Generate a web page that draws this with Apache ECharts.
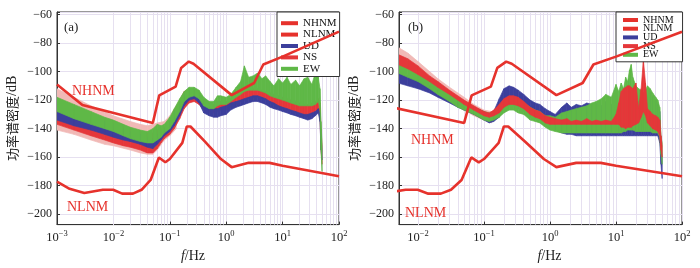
<!DOCTYPE html>
<html>
<head>
<meta charset="utf-8">
<script src="https://cdn.jsdelivr.net/npm/echarts@6/dist/echarts.min.js"></script>
<style>
  html, body { margin: 0; padding: 0; background: #fff; }
  #chart { width: 700px; height: 268px; }
</style>
</head>
<body>
<div id="chart"></div>
<script>
// Peterson noise models as drawn in the figure (frequency in Hz, dB)
var nhnmF  = [0.001, 0.00282, 0.05, 0.065, 0.127, 0.159, 0.217, 0.263, 1.25, 3.125, 4.55, 10, 100];
var nhnmDb = [-109, -123.5, -136, -116.7, -110.5, -97.4, -93, -94.5, -116.5, -108, -95, -89.5, -72];
var nlnmF  = [0.001, 0.00167, 0.00305, 0.0065, 0.0099, 0.0143, 0.0222, 0.0316, 0.0457, 0.0641, 0.0833, 0.1, 0.1667, 0.2, 0.2326, 0.4167, 0.806, 1.25, 2.5, 5.88, 10, 100];
var nlnmDb = [-177.2, -182.2, -185.1, -182.9, -182.9, -185.6, -185.6, -182.9, -176, -160.2, -163.6, -161.3, -150, -138.5, -138.5, -149, -161.3, -167, -164, -164, -166, -173.4];

// panel (a): PSD envelopes
var fA = [0.001, 0.002, 0.004, 0.007, 0.01, 0.015, 0.02, 0.03, 0.04, 0.05, 0.06, 0.07, 0.08, 0.1, 0.12, 0.15, 0.18, 0.22, 0.27, 0.33,
          0.4, 0.5, 0.6, 0.7, 0.8, 1, 1.2, 1.5, 1.8, 2.1, 2.5, 3, 3.6, 4.3, 5, 6, 7, 8.5, 10, 12, 14, 17, 20, 24, 28, 33, 38, 43, 46, 48, 50];
var nsHiA = [-121, -126, -130, -133, -135, -138, -140, -142, -143, -143, -141, -140, -139, -134, -127, -120, -114, -112, -112, -114,
             -120, -122, -123, -121, -121, -121, -119, -117, -115, -113, -112, -112, -112, -113, -114, -115, -116, -117, -118, -119, -120, -121, -122, -123, -123, -122, -121, -119, -122, -140, -152];
var nsLoA = [-137, -141, -145, -148, -150, -152, -153, -155, -157, -157, -154, -150, -147, -144, -140, -133, -126, -122, -121, -123,
             -127, -129, -129, -128, -127, -127, -125, -123, -121, -120, -119, -118, -118, -119, -120, -122, -123, -125, -126, -127, -128, -129, -130, -131, -132, -131, -130, -128, -132, -155, -165];
var udHiA = [-124, -128, -132, -135, -137, -140, -142, -144, -146, -147, -144, -142, -140, -135, -128, -121, -116, -113, -113, -115,
             -123, -125, -126, -126, -125, -124, -122, -121, -120, -119, -118, -117, -117, -118, -119, -121, -122, -124, -125, -126, -127, -128, -129, -130, -130, -129, -128, -126, -129, -145, -155];
var udLoA = [-134, -138, -141, -144, -146, -148, -149, -151, -153, -154, -151, -148, -145, -142, -138, -131, -124, -120, -119, -122,
             -129, -131, -132, -132, -131, -130, -127, -125, -124, -123, -122, -121, -121, -122, -123, -125, -126, -127, -128, -129, -130, -131, -132, -133, -134, -133, -131, -129, -135, -155, -162];
var ewHiA = [-118, -123, -128, -132, -134, -137, -139, -141, -142, -140, -137, -138, -137, -132, -126, -119, -114, -111, -111, -113,
             -118, -121, -121, -117, -117, -118, -116, -111, -107, -96, -104, -103, -101, -105, -103, -107, -110, -105, -108, -104, -109, -106, -110, -105, -104, -109, -101, -104, -112, -135, -150];
var ewLoA = [-128, -133, -137, -140, -142, -145, -147, -149, -150, -150, -148, -146, -143, -140, -135, -128, -121, -118, -117, -119,
             -124, -126, -126, -124, -123, -123, -121, -118, -116, -114, -113, -113, -113, -114, -115, -117, -118, -119, -120, -121, -122, -123, -124, -124, -124, -124, -123, -121, -126, -155, -170];
// faint individual curves around the dense band at long periods
var fSpreadA  = [0.001, 0.002, 0.004, 0.007, 0.01, 0.02, 0.03, 0.04, 0.05, 0.06, 0.08, 0.1, 0.13];
var spreadHiA = [-112, -118, -124, -128, -131, -135, -137, -138, -137, -136, -135, -131, -124];
var spreadLoA = [-141, -144, -148, -151, -152, -155, -157, -158, -158, -155, -148, -145, -140];

// panel (b): PSD envelopes
var fB = [0.005, 0.007, 0.01, 0.015, 0.02, 0.03, 0.04, 0.05, 0.07, 0.1, 0.12, 0.14, 0.17, 0.2, 0.24, 0.28, 0.33, 0.4, 0.5, 0.6, 0.7, 0.85,
          1, 1.2, 1.5, 1.8, 2.1, 2.5, 3, 3.6, 4.3, 5, 6, 7, 8.5, 10, 11, 12, 13, 14, 15, 16, 17, 18, 20, 22, 24, 26, 28, 30, 33, 36, 40, 43, 46, 48, 50];
var udHiB = [-100, -103, -106, -110, -113, -117, -120, -122, -125, -128, -130, -128, -119, -112, -110, -111, -113, -116, -120, -122, -123, -126,
             -128, -130, -125, -122, -125, -123, -124, -122, -123, -122, -124, -121, -123, -121, -123, -120, -122, -119, -121, -118, -120, -121, -122, -121, -119, -121, -120, -117, -114, -118, -120, -123, -128, -150, -160];
var udLoB = [-108, -110, -112, -115, -118, -122, -125, -127, -130, -134, -136, -135, -132, -126, -124, -124, -126, -128, -132, -133, -134, -137,
             -139, -141, -143, -144, -144, -145, -145, -145, -145, -145, -145, -145, -145, -145, -145, -145, -145, -145, -145, -145, -145, -145, -145, -145, -145, -145, -145, -145, -145, -145, -145, -145, -150, -165, -175];
var ewHiB = [-90, -93, -98, -104, -108, -114, -118, -121, -125, -128, -129, -128, -124, -120, -118, -118, -119, -122, -125, -127, -128, -131,
             -131, -132, -129, -128, -127, -126, -125, -124, -122, -121, -119, -116, -118, -109, -114, -108, -112, -104, -107, -99, -95, -104, -110, -112, -113, -115, -113, -110, -112, -115, -118, -120, -125, -145, -150];
var ewLoB = [-101, -104, -107, -112, -116, -121, -125, -127, -130, -134, -135, -134, -132, -129, -127, -127, -129, -130, -134, -135, -136, -139,
             -141, -142, -143, -143, -143, -143, -143, -143, -143, -143, -143, -143, -143, -143, -143, -143, -142, -142, -141, -141, -141, -141, -142, -142, -142, -142, -142, -142, -142, -143, -143, -143, -146, -158, -165];
var nsHiB = [-88, -91, -96, -103, -107, -113, -117, -120, -124, -128, -129, -127, -123, -119, -117, -117, -118, -121, -125, -127, -128, -131,
             -132, -133, -134, -133, -135, -134, -135, -133, -135, -134, -135, -134, -135, -130, -122, -114, -112, -111, -110, -110, -111, -112, -108, -126, -112, -92, -108, -126, -128, -130, -131, -132, -134, -145, -152];
var nsLoB = [-95, -98, -102, -107, -111, -116, -120, -123, -127, -131, -132, -131, -129, -125, -123, -123, -124, -126, -130, -132, -133, -136,
             -137, -137, -137, -137, -137, -137, -137, -137, -137, -137, -137, -137, -137, -137, -137, -139, -139, -140, -139, -139, -139, -138, -137, -136, -132, -128, -131, -136, -138, -140, -141, -142, -145, -155, -160];
var fSpreadB  = [0.005, 0.007, 0.01, 0.015, 0.02, 0.03, 0.05, 0.07, 0.1, 0.13];
var spreadHiB = [-83, -87, -93, -100, -105, -111, -118, -123, -127, -128];
var spreadLoB = [-104, -106, -109, -113, -116, -121, -127, -131, -134, -136];

var colUD = '#3c3f9c';
var colNS = '#e5373a';
var colEW = '#5fb847';
var colSpread = '#f1b9b6';
var colModel = '#e6322c';
var colGrid = '#e6e0f0';

// minor log gridlines (2..9 x 10^k)
var minorGrid = [];
for (var k = -3; k <= 1; k++) {
  for (var d = 2; d <= 9; d++) {
    minorGrid.push(+(d * Math.pow(10, k)).toPrecision(3));
  }
}

function pts(f, v) {
  return f.map(function (x, i) { return [x, v[i]]; });
}

// filled envelope between lo and hi, drawn as quads between neighbouring points
function band(name, f, lo, hi, color, idx) {
  return {
    name: name, type: 'custom', xAxisIndex: idx, yAxisIndex: idx,
    data: f.map(function (x, i) { return [x, lo[i], hi[i]]; }),
    encode: { x: 0, y: [1, 2] },
    itemStyle: { color: color },
    silent: true, animation: false, clip: true, z: 2,
    renderItem: function (params, api) {
      var i = params.dataIndexInside;
      if (i >= params.dataInsideLength - 1) return null;
      var p1 = api.coord([api.value(0, i), api.value(1, i)]);
      var p2 = api.coord([api.value(0, i), api.value(2, i)]);
      var p3 = api.coord([api.value(0, i + 1), api.value(2, i + 1)]);
      var p4 = api.coord([api.value(0, i + 1), api.value(1, i + 1)]);
      return {
        type: 'polygon',
        shape: { points: [p1, p2, p3, p4] },
        style: { fill: color, stroke: color, lineWidth: 0.7 }
      };
    }
  };
}

function model(name, f, v, idx) {
  return {
    name: name, type: 'line', xAxisIndex: idx, yAxisIndex: idx,
    data: pts(f, v), symbol: 'none', silent: true,
    itemStyle: { color: colModel },
    lineStyle: { color: colModel, width: 2.6 },
    animation: false, z: 4
  };
}

// empty series that only carries the log minor gridlines
function gridLines(idx) {
  return {
    name: 'grid' + idx, type: 'line', xAxisIndex: idx, yAxisIndex: idx,
    data: [], silent: true, animation: false, z: 1,
    markLine: {
      silent: true, symbol: ['none', 'none'], animation: false, z: 1,
      label: { show: false },
      lineStyle: { color: colGrid, width: 1, type: 'solid' },
      data: minorGrid.map(function (v) { return { xAxis: v }; })
    }
  };
}

var serif = '"Liberation Serif", "Times New Roman", serif';

function xAxisFor(idx, min) {
  return {
    type: 'log', gridIndex: idx, min: min, max: 100, logBase: 10,
    name: '{i|f}{e|/Hz}', nameLocation: 'middle', nameGap: 22,
    nameTextStyle: {
      padding: idx === 0 ? [0, 10, 0, 0] : [0, 0, 0, 18],
      rich: {
        i: { fontFamily: serif, fontSize: 14, fontStyle: 'italic', color: '#222' },
        e: { fontFamily: serif, fontSize: 14, color: '#222' }
      }
    },
    axisLine: { lineStyle: { color: '#333' } },
    axisTick: { inside: true, length: 3, lineStyle: { color: '#333' } },
    splitLine: { show: true, lineStyle: { color: colGrid } },
    axisLabel: {
      margin: 5,
      formatter: function (v) {
        var e = Math.log10(v);
        if (Math.abs(e - Math.round(e)) > 1e-6) return '';
        e = Math.round(e);
        return '{b|10}{s|' + (e < 0 ? '\u2212' + (-e) : e) + '}';
      },
      rich: {
        b: { fontFamily: serif, fontSize: 12.5, color: '#222' },
        s: { fontFamily: serif, fontSize: 8.5, color: '#222', padding: [0, 0, 7, 0] }
      }
    }
  };
}

function yAxisFor(idx) {
  return {
    type: 'value', gridIndex: idx, min: -207.3, max: -58.2, splitNumber: 7,
    name: '{c|功率谱密度}{e|/dB}', nameLocation: 'middle', nameGap: 38,
    nameTextStyle: {
      rich: {
        c: { fontFamily: '"Noto Sans CJK SC"', fontSize: 13, color: '#222' },
        e: { fontFamily: serif, fontSize: 14, color: '#222' }
      }
    },
    axisLine: { show: true, lineStyle: { color: '#333' } },
    axisTick: { show: true, inside: true, length: 3, lineStyle: { color: '#333' } },
    splitLine: { show: true, lineStyle: { color: colGrid } },
    axisLabel: {
      margin: 5, fontFamily: serif, fontSize: 12, color: '#222',
      formatter: function (v) {
        if (Math.abs(v % 20) > 1e-6) return '';
        return String(v).replace('-', '\u2212');
      }
    }
  };
}

function legendFor(left, fontSize, lineH, iw, gap, pad) {
  return {
    orient: 'vertical', left: left, top: 12,
    data: ['NHNM', 'NLNM', 'UD', 'NS', 'EW'],
    icon: 'rect', itemWidth: iw, itemHeight: 4, itemGap: gap,
    backgroundColor: '#fff', borderColor: '#333', borderWidth: 1,
    padding: pad, selectedMode: false,
    textStyle: { fontFamily: serif, fontSize: fontSize, lineHeight: lineH, color: '#111' }
  };
}

function labelText(text, x, y, size) {
  return {
    type: 'text', x: x, y: y, z: 10,
    style: { text: text, fill: colModel, font: size + 'px ' + serif }
  };
}

var series = [
  gridLines(0),
  band('spread', fSpreadA, spreadLoA, spreadHiA, colSpread, 0),
  band('NS', fA, nsLoA, nsHiA, colNS, 0),
  band('UD', fA, udLoA, udHiA, colUD, 0),
  band('EW', fA, ewLoA, ewHiA, colEW, 0),
  model('NHNM', nhnmF, nhnmDb, 0),
  model('NLNM', nlnmF, nlnmDb, 0),
  gridLines(1),
  band('spread', fSpreadB, spreadLoB, spreadHiB, colSpread, 1),
  band('UD', fB, udLoB, udHiB, colUD, 1),
  band('EW', fB, ewLoB, ewHiB, colEW, 1),
  band('NS', fB, nsLoB, nsHiB, colNS, 1),
  model('NHNM', nhnmF, nhnmDb, 1),
  model('NLNM', nlnmF, nlnmDb, 1)
];

var chart = echarts.init(document.getElementById('chart'));
var option = {
  backgroundColor: '#fff',
  animation: false,
  grid: [
    { left: 57, top: 12, width: 282, height: 220, show: true, borderColor: '#333', borderWidth: 1, backgroundColor: '#fff' },
    { left: 399, top: 12, width: 283, height: 220, show: true, borderColor: '#333', borderWidth: 1, backgroundColor: '#fff' }
  ],
  xAxis: [xAxisFor(0, 0.001), xAxisFor(1, 0.00515)],
  yAxis: [yAxisFor(0), yAxisFor(1)],
  legend: [
    legendFor(277, 11, 11.4, 17, 0, [5.5, 3, 2, 4]),
    legendFor(616, 10, 8.7, 15, -1.3, [3, 9, 2, 7])
  ],
  graphic: [
    { type: 'text', x: 64, y: 21, z: 10, style: { text: '(a)', fill: '#222', font: '13px ' + serif } },
    { type: 'text', x: 408, y: 21, z: 10, style: { text: '(b)', fill: '#222', font: '13px ' + serif } },
    labelText('NHNM', 72, 84, 14),
    labelText('NLNM', 67, 200, 14),
    labelText('NHNM', 411, 133, 14),
    labelText('NLNM', 405, 206, 14)
  ],
  series: series
};
chart.setOption(option);
</script>
</body>
</html>
